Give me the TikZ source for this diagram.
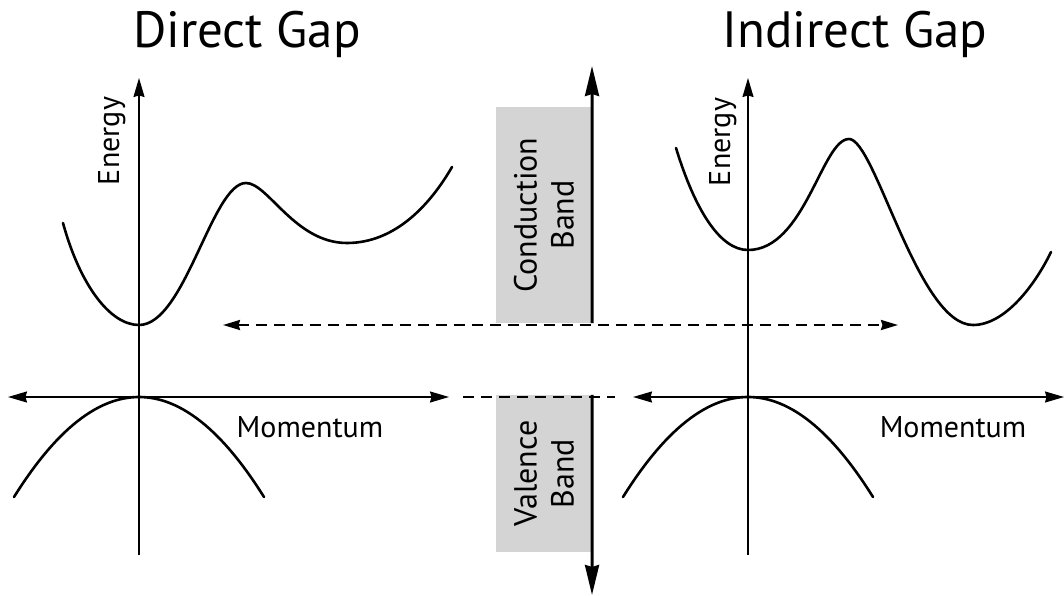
\documentclass[tikz,border=0pt]{standalone}
\usepackage{fontspec}
\setmainfont{PT Sans}
\usetikzlibrary{arrows.meta, positioning}
\definecolor{bandgray}{RGB}{212,212,212}

\begin{document}
\begin{tikzpicture}[x=1pt, y=-1pt,
      >={Stealth[length=19pt, width=11pt, inset=1.5pt]},
      axisline/.style={line width=1.6pt},
      bandline/.style={line width=2.6pt, line cap=round},
      gapline/.style={line width=2.2pt, dash pattern=on 11pt off 7pt,
                      >={Stealth[length=17pt, width=10pt, inset=1.5pt]}},
      bandbox/.style={rectangle, fill=bandgray, inner sep=0pt, minimum width=96pt},
      bandarrow/.style={line width=3pt, -{Stealth[length=30pt, width=14pt, inset=2pt]}},
      title/.style={font=\fontsize{51}{60}\selectfont, anchor=base},
      label/.style={font=\fontsize{30}{34}\selectfont},
      bandtext/.style={rotate=90, align=center, font=\fontsize{32}{37}\selectfont}
    ]
    \useasboundingbox (0,0) rectangle (1064,596);

    % Direct gap
    \node[title] (dtitle) at (247,48) {Direct Gap};
    \coordinate (dEbot) at (139,555);
    \coordinate (dEtop) at (139,78);
    \coordinate (dMl) at (8,397);
    \coordinate (dMr) at (449,397);
    \draw[axisline, ->] (dEbot) -- (dEtop);
    \draw[axisline, <->] (dMl) -- (dMr);
    \node[label, rotate=90, anchor=base] (denergy) at (119,141) {Energy};
    \node[label, anchor=base] (dmomentum) at (310,437) {Momentum};

    \draw[bandline] (63,223) .. controls (80,285) and (110,325) .. (139,325)
      .. controls (185,325) and (212,183) .. (246,183)
      .. controls (268,183) and (295,243) .. (347,243)
      .. controls (395,243) and (430,205) .. (452,167);
    \draw[bandline] plot[domain=-125:125, samples=60] ({139+\x}, {397+100*(\x/125)^2});

    % Indirect gap
    \node[title] (ititle) at (855,48) {Indirect Gap};
    \coordinate (iEbot) at (748,555);
    \coordinate (iEtop) at (748,78);
    \coordinate (iMl) at (633,397);
    \coordinate (iMr) at (1064,397);
    \draw[axisline, ->] (iEbot) -- (iEtop);
    \draw[axisline, <->] (iMl) -- (iMr);
    \node[label, rotate=90, anchor=base] (ienergy) at (730,142) {Energy};
    \node[label, anchor=base] (imomentum) at (953,437) {Momentum};

    \draw[bandline] (676,148) .. controls (695,210) and (720,250) .. (748,250)
      .. controls (805,250) and (822,139) .. (849,139)
      .. controls (875,139) and (918,325) .. (973,325)
      .. controls (1005,325) and (1035,285) .. (1051,252);
    \draw[bandline] plot[domain=-125:125, samples=60] ({748+\x}, {397+100*(\x/125)^2});

    % Band boxes
    \node[bandbox, minimum height=216pt] (cb) at (544,215) {};
    \node[bandtext] (cbtext) at (cb.center) {Conduction\\Band};
    \node[bandbox, minimum height=157pt] (vb) at (544,473.5) {};
    \node[bandtext] (vbtext) at (vb.center) {Valence\\Band};

    \coordinate (cbtop) at (592,66);
    \coordinate (vbbot) at (592,595);
    \draw[bandarrow] (cb.south east) -- (cbtop);
    \draw[bandarrow] (vb.north east) -- (vbbot);

    % Gap levels
    \coordinate (gapl) at (223,325);
    \coordinate (gapr) at (898,325);
    \draw[gapline, <->] (gapl) -- (gapr);
    \coordinate (vtopl) at (463,397);
    \coordinate (vtopr) at (615,397);
    \draw[gapline] (vtopl) -- (vtopr);

  \end{tikzpicture}
\end{document}
